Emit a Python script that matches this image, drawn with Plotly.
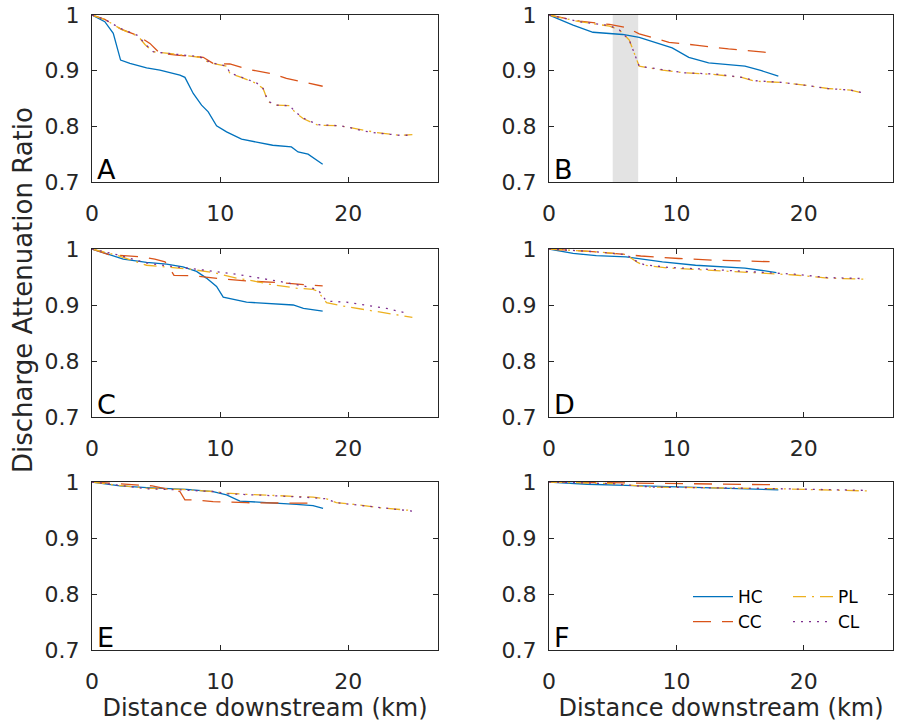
import plotly.graph_objects as go

# ---------------- data ----------------
series_names = ["HC", "CC", "PL", "CL"]
panel_letters = ["A", "B", "C", "D", "E", "F"]
x_ticks = [0, 10, 20]
y_ticks = [0.7, 0.8, 0.9, 1.0]
y_tick_text = ["0.7", "0.8", "0.9", "1"]
shade_B = [5, 7]

# Panel A
hc_a_x = [0, 1.0, 1.66, 2.23, 2.96, 4.26, 5.3, 6.86, 7.25, 7.9, 8.55, 9.07, 9.72, 10.5, 11.67, 12.8, 14.1, 15.56, 16.08, 16.86, 18.0]
hc_a_y = [1.0, 0.988, 0.967, 0.919, 0.913, 0.905, 0.901, 0.892, 0.888, 0.859, 0.838, 0.826, 0.801, 0.790, 0.777, 0.772, 0.766, 0.763, 0.754, 0.750, 0.732]
cc_a_x = [0, 1.0, 2.31, 3.48, 4.52, 5.3, 6.6, 8.68, 9.45, 10.76, 12.06, 14.13, 15.17, 16.47, 18.0]
cc_a_y = [1.0, 0.992, 0.974, 0.964, 0.949, 0.931, 0.928, 0.924, 0.913, 0.912, 0.903, 0.894, 0.886, 0.880, 0.872]
pl_a_x = [0, 1.0, 2.31, 3.6, 4.13, 4.78, 6.34, 8.42, 9.2, 9.98, 10.5, 10.76, 11.54, 12.84, 13.35, 13.74, 14.4, 15.43, 15.82, 16.47, 17.64, 19.33, 20.1, 21.1, 22.2, 24.0, 25.0]
pl_a_y = [1.0, 0.992, 0.974, 0.962, 0.947, 0.934, 0.930, 0.924, 0.914, 0.910, 0.908, 0.895, 0.889, 0.877, 0.868, 0.844, 0.838, 0.837, 0.826, 0.814, 0.802, 0.801, 0.798, 0.793, 0.789, 0.784, 0.785]
cl_a_x = [0, 1.0, 2.31, 3.6, 4.13, 4.78, 6.34, 8.42, 9.2, 9.98, 10.5, 10.76, 11.54, 12.84, 13.35, 13.74, 14.4, 15.43, 15.82, 16.47, 17.64, 19.33, 20.1, 21.1, 22.2, 24.0, 25.0]
cl_a_y = [1.0, 0.992, 0.975, 0.963, 0.948, 0.934, 0.930, 0.925, 0.915, 0.910, 0.908, 0.896, 0.889, 0.878, 0.868, 0.845, 0.838, 0.837, 0.827, 0.815, 0.803, 0.801, 0.798, 0.792, 0.788, 0.784, 0.784]

# Panel B
hc_b_x = [0, 1.89, 3.45, 5.78, 7.08, 9.67, 10.97, 12.53, 15.38, 16.68, 18.0]
hc_b_y = [1.0, 0.982, 0.969, 0.965, 0.960, 0.941, 0.924, 0.914, 0.908, 0.900, 0.890]
cc_b_x = [0, 2.41, 4.75, 6.17, 7.08, 9.42, 11.5, 14.09, 17.5]
cc_b_y = [1.0, 0.989, 0.983, 0.977, 0.966, 0.951, 0.946, 0.939, 0.932]
pl_b_x = [0, 2.4, 4.75, 5.53, 6.3, 6.87, 7.08, 8.9, 10.7, 13.05, 15.12, 16.16, 18.23, 20.05, 21.87, 23.68, 24.72]
pl_b_y = [1.0, 0.988, 0.980, 0.973, 0.955, 0.919, 0.908, 0.901, 0.896, 0.893, 0.888, 0.881, 0.879, 0.874, 0.868, 0.865, 0.859]
cl_b_x = [0, 2.4, 4.75, 5.53, 6.3, 6.87, 7.08, 8.9, 10.7, 13.05, 15.12, 16.16, 18.23, 20.05, 21.87, 23.68, 24.72]
cl_b_y = [1.0, 0.988, 0.981, 0.973, 0.955, 0.920, 0.908, 0.902, 0.896, 0.894, 0.888, 0.882, 0.879, 0.874, 0.868, 0.865, 0.860]

# Panel C
hc_c_x = [0, 1.15, 2.44, 4.26, 5.82, 7.1, 8.16, 8.93, 9.72, 10.24, 12.06, 15.7, 16.5, 18.0]
hc_c_y = [1.0, 0.992, 0.982, 0.976, 0.973, 0.968, 0.960, 0.948, 0.933, 0.914, 0.905, 0.900, 0.894, 0.889]
cc_c_x = [0, 1.3, 3.9, 4.9, 5.7, 6.0, 6.4, 8.0, 10.0, 12.0, 14.5, 16.0, 17.2, 18.0]
cc_c_y = [1.0, 0.990, 0.986, 0.982, 0.977, 0.968, 0.953, 0.952, 0.947, 0.943, 0.940, 0.938, 0.936, 0.934]
pl_c_x = [0, 1.93, 4.26, 5.82, 7.64, 9.45, 11.27, 12.57, 13.87, 15.95, 17.25, 17.64, 18.3, 19.86, 22.45, 25.0]
pl_c_y = [1.0, 0.989, 0.971, 0.968, 0.964, 0.958, 0.948, 0.943, 0.937, 0.930, 0.928, 0.924, 0.904, 0.897, 0.888, 0.878]
cl_c_x = [0, 1.93, 4.26, 5.82, 8.68, 11.54, 14.66, 16.73, 17.64, 18.3, 19.86, 21.4, 22.97, 24.65]
cl_c_y = [1.0, 0.990, 0.975, 0.970, 0.9625, 0.954, 0.942, 0.933, 0.927, 0.907, 0.905, 0.900, 0.894, 0.885]

# Panel D
hc_d_x = [0, 1.89, 3.71, 6.05, 8.9, 11.5, 15.38, 17.85]
hc_d_y = [1.0, 0.992, 0.988, 0.986, 0.977, 0.971, 0.966, 0.958]
cc_d_x = [0, 3.7, 6.1, 7.2, 10.2, 13.05, 17.85]
cc_d_y = [1.0, 0.995, 0.990, 0.9875, 0.983, 0.980, 0.977]
pl_d_x = [0, 3.7, 6.05, 6.95, 7.47, 9.42, 12.27, 15.38, 19.28, 21.87, 24.85]
pl_d_y = [1.0, 0.995, 0.990, 0.976, 0.971, 0.966, 0.9625, 0.958, 0.9536, 0.948, 0.946]
cl_d_x = [0, 3.7, 6.05, 6.95, 7.47, 9.42, 12.27, 15.38, 19.28, 21.87, 24.85]
cl_d_y = [1.0, 0.995, 0.990, 0.977, 0.972, 0.967, 0.964, 0.960, 0.955, 0.949, 0.947]

# Panel E
hc_e_x = [0, 2.18, 4.26, 7.38, 9.45, 10.5, 11.54, 13.35, 15.95, 17.25, 18.03]
hc_e_y = [1.0, 0.993, 0.990, 0.987, 0.983, 0.977, 0.966, 0.963, 0.960, 0.958, 0.953]
cc_e_x = [0, 2.3, 3.8, 4.7, 6.86, 7.25, 8.0, 9.45, 12.06, 14.65, 15.95, 17.4]
cc_e_y = [1.0, 0.996, 0.994, 0.993, 0.983, 0.968, 0.968, 0.965, 0.963, 0.963, 0.962, 0.962]
pl_e_x = [0, 1.66, 4.26, 6.86, 9.45, 10.5, 12.06, 14.66, 17.25, 18.3, 19.07, 20.89, 22.45, 25.0]
pl_e_y = [1.0, 0.995, 0.989, 0.987, 0.983, 0.980, 0.978, 0.975, 0.973, 0.970, 0.963, 0.959, 0.954, 0.949]
cl_e_x = [0, 1.66, 4.26, 6.86, 9.45, 10.5, 12.06, 14.66, 17.25, 18.3, 19.07, 20.89, 22.45, 25.0]
cl_e_y = [1.0, 0.995, 0.988, 0.986, 0.983, 0.979, 0.977, 0.975, 0.972, 0.970, 0.963, 0.958, 0.954, 0.948]

# Panel F
hc_f_x = [0, 3, 6, 10, 14, 18]
hc_f_y = [1.0, 0.996, 0.994, 0.991, 0.989, 0.986]
cc_f_x = [0, 6, 10, 14, 18]
cc_f_y = [1.0, 0.998, 0.997, 0.996, 0.995]
pl_f_x = [0, 5, 8, 12, 18, 25]
pl_f_y = [1.0, 0.997, 0.991, 0.990, 0.988, 0.984]
cl_f_x = [0, 5, 8, 12, 18, 25]
cl_f_y = [1.0, 0.997, 0.991, 0.990, 0.988, 0.985]

# ---------------- styling ----------------
colors = {"HC": "#0072BD", "CC": "#D95319", "PL": "#EDB120", "CL": "#7E2F8E"}
dashes = {"HC": "solid", "CC": "18px,11px", "PL": "13px,6px,2px,6px", "CL": "2px,6px"}
FONT = "DejaVu Sans"
AX = "#262626"

panels = [
    [(hc_a_x, hc_a_y), (cc_a_x, cc_a_y), (pl_a_x, pl_a_y), (cl_a_x, cl_a_y)],
    [(hc_b_x, hc_b_y), (cc_b_x, cc_b_y), (pl_b_x, pl_b_y), (cl_b_x, cl_b_y)],
    [(hc_c_x, hc_c_y), (cc_c_x, cc_c_y), (pl_c_x, pl_c_y), (cl_c_x, cl_c_y)],
    [(hc_d_x, hc_d_y), (cc_d_x, cc_d_y), (pl_d_x, pl_d_y), (cl_d_x, cl_d_y)],
    [(hc_e_x, hc_e_y), (cc_e_x, cc_e_y), (pl_e_x, pl_e_y), (cl_e_x, cl_e_y)],
    [(hc_f_x, hc_f_y), (cc_f_x, cc_f_y), (pl_f_x, pl_f_y), (cl_f_x, cl_f_y)],
]

W, H = 898, 727
x_doms = [[92 / W, 438 / W], [549 / W, 893 / W]]
y_doms = [[1 - 182 / H, 1 - 15 / H], [1 - 417 / H, 1 - 249 / H], [1 - 650 / H, 1 - 482 / H]]

fig = go.Figure()
legend_of = {"HC": "legend", "CC": "legend", "PL": "legend2", "CL": "legend2"}

for p, series in enumerate(panels):
    ax = "" if p == 0 else str(p + 1)
    for name, (xs, ys) in zip(series_names, series):
        fig.add_trace(go.Scatter(
            x=xs, y=ys, mode="lines", name=name,
            line=dict(color=colors[name], width=1.3, dash=dashes[name]),
            xaxis="x" + ax, yaxis="y" + ax,
            showlegend=(p == 5), legend=legend_of[name],
        ))

layout = dict(
    width=W, height=H, margin=dict(l=0, r=0, t=0, b=0),
    paper_bgcolor="white", plot_bgcolor="white",
    font=dict(family=FONT, color=AX, size=20),
)
for p in range(6):
    ax = "" if p == 0 else str(p + 1)
    col, row = p % 2, p // 2
    xa = dict(domain=x_doms[col], range=[0, 27], tickvals=x_ticks,
              showgrid=False, zeroline=False, showline=True, mirror="ticks",
              linecolor=AX, linewidth=1, ticks="inside", ticklen=5, tickcolor=AX,
              tickfont=dict(size=22, family=FONT, color=AX),
              anchor="y" + ax, automargin=False, ticklabelstandoff=12)
    if row == 2:
        xa["title"] = dict(text="Distance downstream (km)", font=dict(size=24, family=FONT, color=AX), standoff=2)
    ya = dict(domain=y_doms[row], range=[0.7, 1.0], tickvals=y_ticks, ticktext=y_tick_text,
              showgrid=False, zeroline=False, showline=True, mirror="ticks",
              linecolor=AX, linewidth=1, ticks="inside", ticklen=5, tickcolor=AX,
              tickfont=dict(size=22, family=FONT, color=AX),
              anchor="x" + ax, automargin=False, ticklabelstandoff=7)
    layout["xaxis" + ax] = xa
    layout["yaxis" + ax] = ya

fig.update_layout(**layout)

# panel letters
for p, letter in enumerate(panel_letters):
    ax = "" if p == 0 else str(p + 1)
    fig.add_annotation(text=letter, xref="x" + ax + " domain", yref="y" + ax + " domain",
                       x=0.01, y=0.0, xanchor="left", yanchor="bottom", showarrow=False,
                       yshift=-5, font=dict(size=27, family=FONT, color="black"))

# shared y label
fig.add_annotation(text="Discharge Attenuation Ratio", xref="paper", yref="paper",
                   x=23 / W, y=1 - 290 / H, textangle=-90, showarrow=False,
                   xanchor="center", yanchor="middle",
                   font=dict(size=26, family=FONT, color=AX))

# shaded band in B
fig.add_shape(type="rect", xref="x2", yref="y2 domain", x0=shade_B[0], x1=shade_B[1], y0=0, y1=1,
              fillcolor="#e3e3e3", line=dict(width=0), layer="below")

fig.update_layout(
    legend=dict(x=688 / W, y=1 - 579 / H, xanchor="left", yanchor="top",
                bgcolor="rgba(0,0,0,0)", font=dict(size=17, family=FONT, color="black"),
                itemwidth=40, tracegroupgap=0),
    legend2=dict(x=788 / W, y=1 - 579 / H, xanchor="left", yanchor="top",
                 bgcolor="rgba(0,0,0,0)", font=dict(size=17, family=FONT, color="black"),
                 itemwidth=40, tracegroupgap=0),
)

fig.write_html("out.html")
